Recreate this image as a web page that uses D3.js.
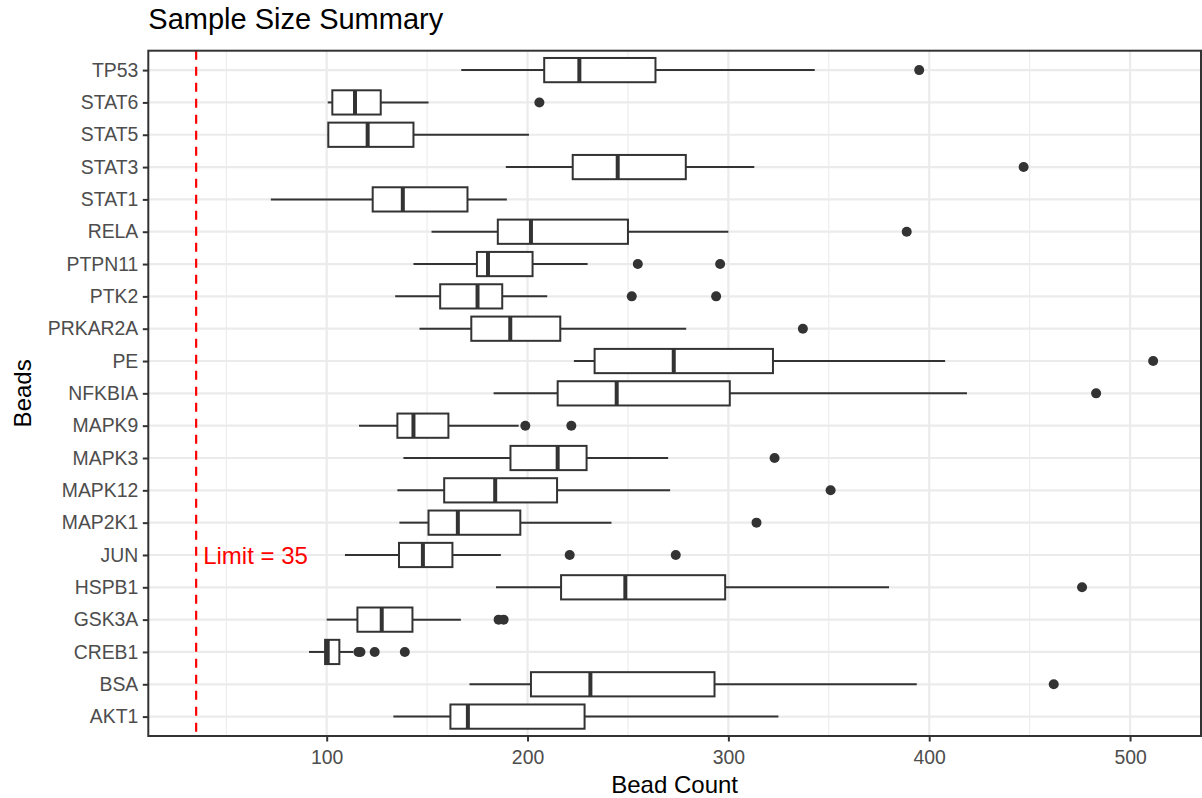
<!DOCTYPE html>
<html>
<head>
<meta charset="utf-8">
<script src="https://cdn.jsdelivr.net/npm/d3@7"></script>
<style>
    body { margin: 0; background: #fff; }
    svg { display: block; font-family: "Liberation Sans", Arial, sans-serif; }
</style>
</head>
<body>
<div id="chart"></div>
<script>
// bead names, bottom to top
var beads = ["AKT1", "BSA", "CREB1", "GSK3A", "HSPB1", "JUN", "MAP2K1", "MAPK12", "MAPK3", "MAPK9",
    "NFKBIA", "PE", "PRKAR2A", "PTK2", "PTPN11", "RELA", "STAT1", "STAT3", "STAT5", "STAT6", "TP53"];

// box stats
var whiskerLow  = [133.2, 171.1, 91.2, 100.0, 184.3, 109.1, 136.2, 135.2, 138.2, 116.1,
    183.1, 223.1, 146.2, 134.1, 143.2, 152.2, 72.2, 189.2, 100.5, 100.5, 167.0];
var q1          = [161.6, 201.7, 99.2, 115.3, 216.7, 136.0, 150.7, 158.5, 191.5, 135.2,
    215.0, 233.4, 172.0, 156.5, 174.8, 185.2, 122.9, 222.5, 100.8, 102.8, 208.3];
var median      = [170.3, 231.3, 100.5, 127.4, 248.7, 147.9, 165.3, 183.9, 215.0, 143.2,
    244.4, 272.8, 191.4, 175.1, 180.3, 201.7, 137.9, 244.9, 120.4, 114.1, 225.8];
var q3          = [228.4, 293.1, 106.3, 142.7, 298.4, 162.6, 196.4, 214.7, 229.4, 160.6,
    300.7, 322.2, 216.3, 187.4, 202.5, 250.0, 170.1, 278.8, 143.2, 126.9, 263.7];
var whiskerHigh = [324.9, 393.8, 113.3, 166.8, 380.0, 186.7, 241.8, 271.0, 270.0, 195.6,
    418.8, 407.9, 279.0, 209.8, 229.9, 300.0, 189.7, 312.9, 200.7, 150.7, 343.0];
var outliers = [[], [462.0], [115.8, 116.8, 123.9, 138.9], [185.6, 188.1], [476.1], [221.0, 273.8],
    [314.0], [350.9], [323.0], [198.9, 221.8], [483.1], [511.5], [337.1], [251.9, 293.9],
    [254.9, 295.9], [388.8], [], [447.0], [], [205.9], [395.0]];

var xTicks = [100, 200, 300, 400, 500];
var xMinor = [50, 150, 250, 350, 450];

var limit = 35;
var limitLabel = "Limit = 35";
var limitLabelBead = "JUN";
var limitLabelX = 38.5;

render();

function render() {
    var width = 1202, height = 798;
    var panel = {left: 148.3, right: 1201, top: 50.7, bottom: 736};
    var ink = "#333333";

    var svg = d3.select("#chart").append("svg")
        .attr("width", width)
        .attr("height", height);

    svg.append("rect")
        .attr("width", width)
        .attr("height", height)
        .attr("fill", "#fff");

    // x range covers the limit line and every point, plus 5% like ggplot
    var allVals = [limit].concat(whiskerLow, whiskerHigh, d3.merge(outliers));
    var lo = d3.min(allVals), hi = d3.max(allVals);
    var pad = (hi - lo) * 0.05;

    var x = d3.scaleLinear()
        .domain([lo - pad, hi + pad])
        .range([panel.left, panel.right]);

    var y = d3.scalePoint()
        .domain(beads)
        .range([panel.bottom, panel.top])
        .padding(0.6);

    var boxH = y.step() * 0.75;

    // grid
    var grid = svg.append("g");
    grid.selectAll("line.minor")
        .data(xMinor)
        .enter()
        .append("line")
        .attr("x1", d => x(d)).attr("x2", d => x(d))
        .attr("y1", panel.top).attr("y2", panel.bottom)
        .attr("stroke", "#ebebeb")
        .attr("stroke-width", 1.1);
    grid.selectAll("line.majx")
        .data(xTicks)
        .enter()
        .append("line")
        .attr("x1", d => x(d)).attr("x2", d => x(d))
        .attr("y1", panel.top).attr("y2", panel.bottom)
        .attr("stroke", "#ebebeb")
        .attr("stroke-width", 2.2);
    grid.selectAll("line.majy")
        .data(beads)
        .enter()
        .append("line")
        .attr("x1", panel.left).attr("x2", panel.right)
        .attr("y1", d => y(d)).attr("y2", d => y(d))
        .attr("stroke", "#ebebeb")
        .attr("stroke-width", 2.2);

    // limit line
    svg.append("line")
        .attr("x1", x(limit)).attr("x2", x(limit))
        .attr("y1", panel.top).attr("y2", panel.bottom)
        .attr("stroke", "#ff0000")
        .attr("stroke-width", 2.2)
        .attr("stroke-dasharray", "9,7");

    // boxes
    var rows = beads.map(function (b, i) {
        return {bead: b, lo: whiskerLow[i], q1: q1[i], med: median[i], q3: q3[i], hi: whiskerHigh[i], out: outliers[i]};
    });

    var box = svg.append("g").selectAll("g")
        .data(rows)
        .enter()
        .append("g");

    box.append("line")
        .attr("x1", d => x(d.lo)).attr("x2", d => x(d.q1))
        .attr("y1", d => y(d.bead)).attr("y2", d => y(d.bead))
        .attr("stroke", ink).attr("stroke-width", 2);
    box.append("line")
        .attr("x1", d => x(d.q3)).attr("x2", d => x(d.hi))
        .attr("y1", d => y(d.bead)).attr("y2", d => y(d.bead))
        .attr("stroke", ink).attr("stroke-width", 2);
    box.append("rect")
        .attr("x", d => x(d.q1))
        .attr("y", d => y(d.bead) - boxH / 2)
        .attr("width", d => x(d.q3) - x(d.q1))
        .attr("height", boxH)
        .attr("fill", "#fff")
        .attr("stroke", ink).attr("stroke-width", 2);
    box.append("line")
        .attr("x1", d => x(d.med)).attr("x2", d => x(d.med))
        .attr("y1", d => y(d.bead) - boxH / 2).attr("y2", d => y(d.bead) + boxH / 2)
        .attr("stroke", ink).attr("stroke-width", 4);
    box.selectAll("circle")
        .data(d => d.out.map(v => ({bead: d.bead, v: v})))
        .enter()
        .append("circle")
        .attr("cx", d => x(d.v))
        .attr("cy", d => y(d.bead))
        .attr("r", 5)
        .attr("fill", ink);

    // limit label
    svg.append("text")
        .attr("x", x(limitLabelX))
        .attr("y", y(limitLabelBead))
        .attr("dy", "0.36em")
        .attr("fill", "#ff0000")
        .style("font-size", "24px")
        .text(limitLabel);

    // panel border
    svg.append("rect")
        .attr("x", panel.left).attr("y", panel.top)
        .attr("width", panel.right - panel.left)
        .attr("height", panel.bottom - panel.top)
        .attr("fill", "none")
        .attr("stroke", ink)
        .attr("stroke-width", 2);

    // axes
    var xAxis = svg.append("g")
        .attr("transform", "translate(0," + panel.bottom + ")")
        .call(d3.axisBottom(x).tickValues(xTicks).tickSize(5.5).tickPadding(5));
    var yAxis = svg.append("g")
        .attr("transform", "translate(" + panel.left + ",0)")
        .call(d3.axisLeft(y).tickSize(5.5).tickPadding(4.5));

    [xAxis, yAxis].forEach(function (a) {
        a.select(".domain").remove();
        a.selectAll(".tick line").attr("stroke", ink).attr("stroke-width", 2);
        a.selectAll(".tick text")
            .attr("fill", "#4d4d4d")
            .style("font-family", "Liberation Sans, Arial, sans-serif")
            .style("font-size", "19.4px");
    });
    xAxis.selectAll(".tick text").attr("dy", "0.9em");

    // titles
    svg.append("text")
        .attr("x", panel.left)
        .attr("y", 29)
        .style("font-size", "29px")
        .attr("fill", "#000")
        .text("Sample Size Summary");

    svg.append("text")
        .attr("x", (panel.left + panel.right) / 2)
        .attr("y", 793)
        .attr("text-anchor", "middle")
        .style("font-size", "24px")
        .attr("fill", "#000")
        .text("Bead Count");

    svg.append("text")
        .attr("transform", "translate(31," + (panel.top + panel.bottom) / 2 + ") rotate(-90)")
        .attr("text-anchor", "middle")
        .style("font-size", "24px")
        .attr("fill", "#000")
        .text("Beads");
}
</script>
</body>
</html>
